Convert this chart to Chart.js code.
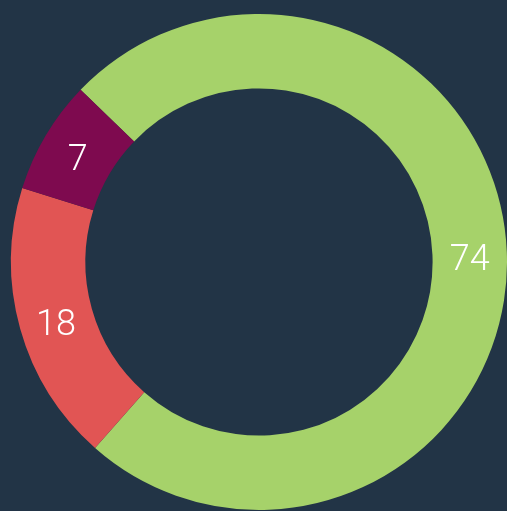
<!DOCTYPE html>
<html>
<head>
<meta charset="utf-8">
<script src="https://cdn.jsdelivr.net/npm/chart.js@4/dist/chart.umd.min.js"></script>
<style>
  html, body { margin: 0; padding: 0; background: #223446; }
  #wrap { width: 507px; height: 511px; }
</style>
</head>
<body>
<div id="wrap"><canvas id="donutChart" width="507" height="511"></canvas></div>
<script>
const labels = ["A", "B", "C"];
const values = [74.2, 18.3, 7.4];
const colors = ["#a6d26a", "#e15554", "#7e0a4f"];

// draws the number in the middle of each slice
const sliceLabels = {
    id: "sliceLabels",
    afterDatasetsDraw(chart) {
        const ctx = chart.ctx;
        const meta = chart.getDatasetMeta(0);
        ctx.save();
        ctx.fillStyle = "#ffffff";
        ctx.font = "300 36px Roboto";
        ctx.textAlign = "center";
        ctx.textBaseline = "middle";
        meta.data.forEach((arc, i) => {
            const p = arc.tooltipPosition();
            ctx.fillText(Math.round(values[i]).toString(), p.x, p.y + 7);
        });
        ctx.restore();
    }
};

new Chart(document.getElementById("donutChart"), {
    type: "doughnut",
    data: {
        labels: labels,
        datasets: [{
            data: values,
            backgroundColor: colors,
            borderWidth: 0
        }]
    },
    options: {
        responsive: false,
        maintainAspectRatio: false,
        animation: false,
        rotation: -46,
        cutout: "70%",
        layout: { padding: { left: 11, right: 0, top: 14, bottom: 1 } },
        plugins: {
            legend: { display: false },
            tooltip: { enabled: false }
        }
    },
    plugins: [sliceLabels]
});
</script>
</body>
</html>
